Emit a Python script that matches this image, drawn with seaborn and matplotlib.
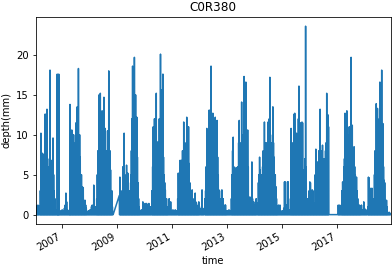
import numpy as np
import pandas as pd
import seaborn as sns
import matplotlib
matplotlib.use("Agg")
from matplotlib import pyplot as plt

# gauge record periods (gaps in between are missing data)
record_periods = [("2006-01-20", "2008-11-12"),
                  ("2009-02-02", "2016-09-16"),
                  ("2017-01-04", "2018-12-12")]

# rainy-day depths (mm), one value every 8 days in the wet seasons
wet_2006 = [1.0, 3.0, 10.2, 4.0, 7.7, 5.0, 6.0, 7.6, 4.0, 12.6, 5.0, 6.0, 13.2, 7.0, 5.0, 6.0,
            4.0, 18.1, 6.0, 6.8, 5.0, 4.0, 9.6, 5.0, 3.0, 2.0]
wet_2007 = [13.8, 6.0, 9.0, 10.6, 5.0, 8.0, 10.0, 6.0, 7.0, 9.0, 11.5, 6.0, 13.5, 7.0, 18.3,
            8.0, 10.0, 7.2, 5.0, 5.0, 3.5, 2.0, 3.4, 1.8, 1.0, 1.8, 1.2, 0.8]
wet_2008 = [2.0, 5.0, 8.0, 6.0, 15.0, 6.0, 15.2, 8.0, 9.0, 13.0, 7.0, 8.0, 14.7, 6.0, 10.8,
            5.0, 8.0, 6.0, 10.5, 9.0, 18.0, 7.0, 8.0, 5.6, 3.0, 3.0, 1.0]
wet_2009 = [2.4, 4.7, 3.0, 2.0, 1.0, 3.0, 6.0, 4.0, 10.2, 5.0, 3.0, 4.0, 6.2, 3.0, 5.2, 4.0, 3.0,
            2.0, 1.5, 5.0, 8.0, 12.0, 18.6, 9.0, 12.0, 19.7, 10.0, 15.0, 8.0, 12.2, 7.2, 4.0, 2.0,
            1.0]
wet_2010 = [3.0, 6.0, 11.0, 7.0, 12.0, 8.0, 9.0, 15.2, 7.0, 9.1, 6.0, 8.0, 12.0, 9.0, 20.1,
            10.0, 15.6, 9.0, 17.6, 7.2, 5.0, 4.0, 3.1, 2.0, 2.0, 1.0]
wet_2011 = [2.0, 5.2, 3.0, 4.0, 6.8, 4.0, 6.8, 5.0, 8.0, 6.0, 11.6, 7.0, 9.0, 6.0, 8.0, 12.2,
            7.0, 6.0, 11.0, 6.4, 4.0, 3.0, 2.5, 3.0, 3.1, 2.0, 1.5, 1.5, 2.0, 2.7, 1.6, 1.5, 1.0,
            0.8, 1.2, 1.6, 1.0]
wet_2012 = [2.0, 3.0, 6.0, 10.8, 5.0, 7.0, 9.0, 13.1, 8.0, 7.0, 18.6, 8.0, 9.0, 12.7, 8.0, 7.0,
            9.0, 12.2, 6.0, 7.0, 11.8, 7.2, 5.0, 3.1, 3.0, 2.0, 1.5, 1.5, 3.1, 2.0, 2.0, 1.0, 0.8,
            1.2, 1.2, 0.5]
wet_2013 = [2.0, 5.0, 8.0, 9.7, 6.0, 5.0, 4.0, 5.0, 5.9, 4.0, 5.0, 6.0, 9.0, 11.8, 7.0, 8.0,
            9.0, 14.1, 8.0, 9.0, 10.0, 17.3, 9.0, 10.0, 16.6, 8.0, 9.0, 10.6, 6.0, 2.2, 2.0, 2.2,
            1.8, 2.0, 6.6, 2.0, 1.0, 1.6, 1.2, 0.5]
wet_2014 = [1.5, 4.0, 5.0, 7.2, 5.6, 4.0, 4.0, 5.0, 6.0, 8.0, 7.0, 11.6, 9.0, 8.0, 7.0, 9.0,
            8.0, 11.6, 9.0, 12.0, 17.2, 10.0, 9.0, 8.0, 9.0, 13.5, 9.0, 7.2, 5.0, 5.0, 3.5, 2.0,
            1.0]
wet_2015 = [2.0, 10.8, 6.0, 8.0, 9.0, 7.0, 12.6, 12.7, 9.0, 8.0, 10.2, 7.0, 9.0, 12.0, 16.1,
            9.0, 8.0, 11.5, 9.0, 11.6, 11.5, 5.6, 5.5, 4.0, 7.0, 23.6, 6.0, 2.0, 1.5, 2.0, 1.5,
            3.0, 4.1, 4.0, 1.5, 2.0, 3.1, 3.0, 1.5, 0.8]
wet_2016 = [1.0, 5.0, 8.2, 6.0, 5.0, 6.6, 5.0, 8.0, 6.0, 13.2, 7.0, 6.0, 8.0, 8.7, 7.0, 6.0, 7.0,
            6.0, 8.0, 9.0, 15.2, 8.0, 12.5, 11.0, 0.0]
wet_2017 = [1.0, 3.0, 4.1, 3.0, 6.0, 7.0, 12.7, 8.0, 9.0, 13.0, 8.0, 9.0, 10.0, 11.0, 9.0, 10.0,
            19.7, 9.0, 11.2, 7.0, 6.0, 8.5, 6.0, 5.0, 4.0, 4.7, 3.0, 2.0, 1.2, 1.0, 1.2, 0.5]
wet_2018 = [1.0, 4.7, 4.6, 2.0, 1.5, 3.3, 2.0, 3.3, 2.0, 1.5, 2.0, 5.0, 8.0, 7.0, 13.9, 8.0,
            13.3, 9.0, 10.0, 12.0, 16.6, 10.0, 9.0, 18.1, 8.0, 11.4, 6.0, 4.3, 4.0, 1.8, 1.5, 1.8,
            1.0]

# dry-season depths (mm), one value every 10 days
dry_2006a = [1.1, 1.0, 1.1, 1.2, 1.1]
dry_2006b = [0.4, 0.6, 0.3, 0.5, 0.4, 0.3, 0.5, 0.4, 0.3, 0.6, 0.4, 0.5, 0.8, 1.2, 2.7, 1.6,
             0.6, 0.5, 0.4, 0.7]
nov_2006 = [17.6, 17.6]
dry_2007 = [0.4, 0.3, 0.5, 0.4, 0.6, 0.5, 1.0, 1.2, 0.8, 3.7, 0.8, 0.6, 1.0]
dry_2009 = [0.4, 0.5, 0.6, 0.4, 1.6, 0.6, 0.4, 1.4, 1.0, 1.4, 0.8, 1.2, 1.4, 0.6, 1.0, 0.8]
dry_2010 = [0.4, 0.6, 2.0, 0.8, 1.6, 0.5, 0.4, 0.6, 0.5, 0.4, 0.6, 0.3, 0.5]
dry_2011 = [0.4, 0.8, 3.1, 0.8, 0.5]
dry_2012 = [0.4, 0.5, 0.3, 0.6, 0.4, 0.5]
dry_2013 = [0.3, 2.0, 0.6]
dry_2014 = [0.4, 1.2, 0.8, 1.2, 0.5, 0.4, 0.3, 0.5, 0.8, 4.1, 4.1, 0.6, 1.2, 4.1, 4.1, 0.5, 0.6]
dry_2016 = [0.0, 1.2, 0.8, 1.2, 0.5]
dry_2017 = [0.4, 1.2, 0.5, 0.6, 1.6, 0.8, 0.5, 0.6, 0.4]
dry_2018 = [0.3, 0.2, 0.3, 0.2]

segments = [("2006-01-20", 10, dry_2006a), ("2006-03-15", 8, wet_2006),
            ("2006-10-08", 10, dry_2006b), ("2006-11-02", 20, nov_2006),
            ("2007-04-20", 8, wet_2007), ("2007-12-01", 10, dry_2007),
            ("2008-04-08", 8, wet_2008), ("2009-02-02", 8, wet_2009),
            ("2009-11-01", 10, dry_2009), ("2010-04-12", 8, wet_2010),
            ("2010-11-05", 10, dry_2010), ("2011-03-18", 8, wet_2011),
            ("2012-01-15", 10, dry_2011), ("2012-03-14", 8, wet_2012),
            ("2012-12-27", 10, dry_2012), ("2013-02-27", 8, wet_2013),
            ("2014-01-12", 10, dry_2013), ("2014-02-12", 8, wet_2014),
            ("2014-11-03", 10, dry_2014), ("2015-04-22", 8, wet_2015),
            ("2016-03-07", 8, wet_2016), ("2017-01-04", 10, dry_2016),
            ("2017-02-25", 8, wet_2017), ("2017-11-08", 10, dry_2017),
            ("2018-02-10", 8, wet_2018), ("2018-11-01", 10, dry_2018)]

tick_years = [2007, 2009, 2011, 2013, 2015, 2017]

# daily series, days without rain are 0
days = pd.DatetimeIndex(np.concatenate([pd.date_range(a, b).values for a, b in record_periods]))
depth = pd.Series(0.0, index=days)
for start, step, vals in segments:
    idx = pd.date_range(start, periods=len(vals), freq=f"{step}D")
    depth.loc[idx] = vals

df = pd.DataFrame({"time": depth.index, "depth": depth.values})

plt.rcParams["font.family"] = ["DejaVu Sans"]
plt.rcParams["font.size"] = 10

fig = plt.figure(figsize=(392 / 72, 268 / 72), dpi=72)
ax = fig.add_axes([0.091, 0.164, 0.906, 0.7735])

sns.lineplot(data=df, x="time", y="depth", ax=ax, color="#1f77b4", linewidth=1.5,
             estimator=None)

ax.set_xlim(df["time"].iloc[0], df["time"].iloc[-1])
ax.set_xticks(pd.to_datetime([f"{y}-01-01" for y in tick_years]))
ax.set_xticklabels([str(y) for y in tick_years], rotation=30, ha="right")
ax.set_yticks([0, 5, 10, 15, 20])
ax.set_title("C0R380")
ax.set_xlabel("time")
ax.set_ylabel("depth(mm)")

fig.savefig("out.png", dpi=72)
